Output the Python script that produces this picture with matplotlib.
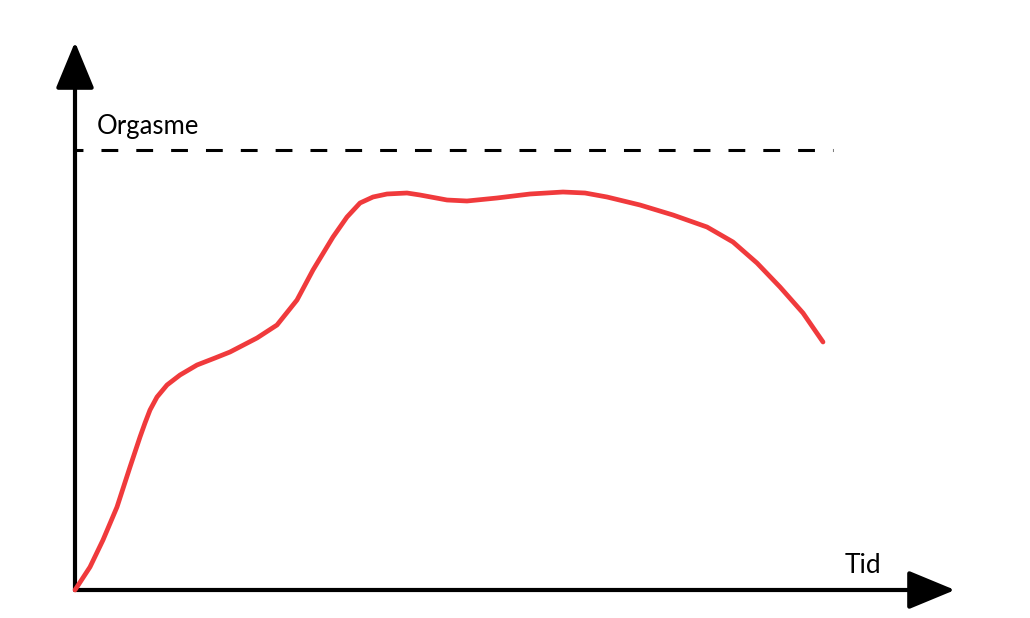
import matplotlib
matplotlib.use("Agg")
import matplotlib.pyplot as plt

# Data: time (arbitrary units) and arousal level (arbitrary units)
time = [0, 15, 28, 42, 55, 65, 70, 75, 82, 92, 105, 122, 140, 155, 182, 202,
        222, 238, 258, 265, 272, 285, 298, 312, 332, 345, 372, 392, 422, 455,
        488, 510, 532, 565, 598, 632, 658, 682, 705, 728, 748]
arousal = [0, 23, 50, 83, 123, 153, 167, 180, 193, 205, 215, 225, 232, 238, 252,
           265, 290, 320, 353, 363, 373, 387, 393, 396, 397, 395, 390, 389, 392,
           396, 398, 397, 393, 385, 375, 363, 348, 327, 303, 277, 248]
orgasm_level = 440
orgasm_end = 758
x_max = 880
y_max = 548
label_threshold = "Orgasme"
label_x = "Tid"

W, H = 1030, 618
fig = plt.figure(figsize=(W / 100, H / 100), dpi=100)
ax = fig.add_axes([75 / W, (H - 590) / H, 880 / W, 548 / H])
ax.set_xlim(0, x_max)
ax.set_ylim(0, y_max)
ax.axis("off")

# axes arrows
arrow_kw = dict(arrowstyle="-|>,head_length=2.9,head_width=1.2", mutation_scale=10,
                lw=3.0, color="black", shrinkA=0, shrinkB=0)
ax.annotate("", xy=(0, y_max), xytext=(0, 0), arrowprops=arrow_kw,
            annotation_clip=False)
ax.annotate("", xy=(x_max, 0), xytext=(0, 0), arrowprops=arrow_kw,
            annotation_clip=False)

# threshold dashed line
ax.plot([0, orgasm_end], [orgasm_level, orgasm_level], color="black", lw=2.2,
        linestyle=(2.9, (5.5, 5.9)), clip_on=False, dash_capstyle="butt")

# arousal curve
ax.plot(time, arousal, color="#f03a3c", lw=3.4, solid_joinstyle="round",
        solid_capstyle="round", clip_on=False, zorder=5)

ax.text(22, 456, label_threshold, fontsize=18.5, family="Lato",
        ha="left", va="baseline")
ax.text(770, 17, label_x, fontsize=19, family="Lato",
        ha="left", va="baseline")

fig.savefig("out.png", dpi=100, facecolor="white")
